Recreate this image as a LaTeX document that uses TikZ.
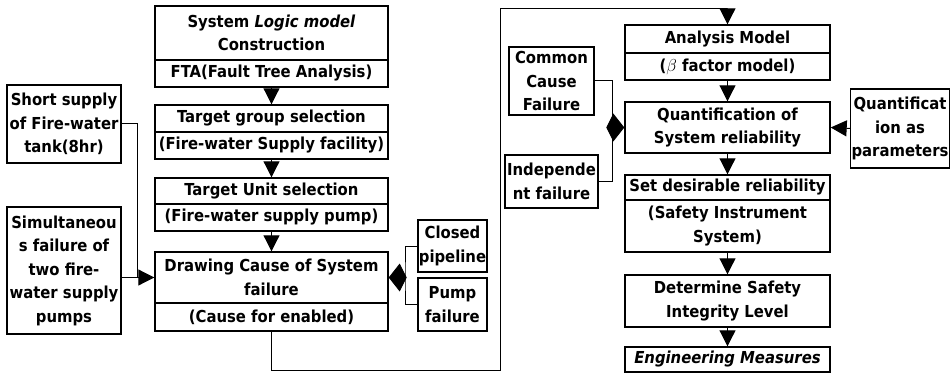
\documentclass[tikz,border=0pt]{standalone}
\usepackage{fontspec}
\newfontfamily\mf{DejaVu Sans Condensed}
\usetikzlibrary{arrows.meta}
\begin{document}
\begin{tikzpicture}[x=1pt,y=-1pt,
  bx/.style={draw,line width=1.4pt,inner sep=1pt,align=center,font=\mf\bfseries\fontsize{16.5}{23.5}\selectfont},
  ln/.style={line width=1pt},
  arr/.style={ln,-{Triangle[length=16pt,width=16pt]}},
  merge/.style={ln,-{Kite[length=18pt,width=28pt,inset=7pt]}}]
\useasboundingbox (0,0) rectangle (952,374);
% left column
\node[bx,minimum width=233,minimum height=54] (sys1) at (271.5,33) {System \textit{Logic model}\\Construction};
\node[bx,minimum width=233,minimum height=27] (sys2) at (271.5,73.5) {FTA(Fault Tree Analysis)};
\node[bx,minimum width=233,minimum height=27] (tg1) at (271.5,118.5) {Target group selection};
\node[bx,minimum width=233,minimum height=27] (tg2) at (271.5,145.5) {(Fire-water Supply facility)};
\node[bx,minimum width=233,minimum height=26] (tu1) at (271.5,191) {Target Unit selection};
\node[bx,minimum width=233,minimum height=27] (tu2) at (271.5,217.5) {(Fire-water supply pump)};
\node[bx,minimum width=233,minimum height=51] (dc1) at (271.5,277.5) {Drawing Cause of System\\failure};
\node[bx,minimum width=233,minimum height=28] (dc2) at (271.5,317) {(Cause for enabled)};
% side boxes left
\node[bx,minimum width=114,minimum height=78] (ss) at (64,124) {Short supply\\of Fire-water\\tank(8hr)};
\node[bx,minimum width=114,minimum height=127] (sim) at (64,270.5) {Simultaneou\\s failure of\\two fire-\\water supply\\pumps};
\node[bx,minimum width=69,minimum height=52] (cp) at (452.5,246) {Closed\\pipeline};
\node[bx,minimum width=69,minimum height=53] (pf) at (452.5,304.5) {Pump\\failure};
% right column
\node[bx,minimum width=205,minimum height=28] (am1) at (727.5,39) {Analysis Model};
\node[bx,minimum width=205,minimum height=27] (am2) at (727.5,66.5) {($\beta$ factor model)};
\node[bx,minimum width=205,minimum height=51] (q) at (727.5,127.5) {Quantification of\\System reliability};
\node[bx,minimum width=205,minimum height=25] (sd1) at (727.5,187.5) {Set desirable reliability};
\node[bx,minimum width=205,minimum height=52] (sd2) at (727.5,226) {(Safety Instrument\\System)};
\node[bx,minimum width=205,minimum height=52] (dt) at (727.5,301) {Determine Safety\\Integrity Level};
\node[bx,minimum width=205,minimum height=25] (em) at (727.5,359.5) {\textit{Engineering Measures}};
\node[bx,minimum width=85,minimum height=68] (cc) at (551.5,81) {Common\\Cause\\Failure};
\node[bx,minimum width=93,minimum height=53] (ind) at (551.5,181.5) {Independe\\nt failure};
\node[bx,minimum width=94,minimum height=79] (qp) at (900,128.5) {Quantificat\\ion as\\parameters};
% connectors
\draw[arr] (sys2) -- (tg1);
\draw[arr] (tg2) -- (tu1);
\draw[arr] (tu2) -- (dc1);
\draw[arr] (am2) -- (q);
\draw[arr] (q) -- (sd1);
\draw[arr] (sd2) -- (dt);
\draw[arr] (dt) -- (em);
\coordinate (j1) at (137,277.5);
\draw[ln] (ss.east) -| (j1);
\draw[arr] (sim.east |- dc1.west) -- (dc1.west);
\coordinate (j2) at (405,277.5);
\draw[ln] (cp.west) -| (j2) |- (pf.west);
\draw[merge] (j2) -- (dc1.east);
\coordinate (r1) at (500,370);
\coordinate (r2) at (500,9);
\draw[arr] (dc2.south) |- (r1) -- (r2) -| (am1.north);
\coordinate (j3) at (612,127.5);
\draw[ln] (cc.east) -| (j3) |- (ind.east);
\draw[merge] (j3) -- (q.west);
\draw[arr] (qp.west) -- (q.east);
\end{tikzpicture}
\end{document}
